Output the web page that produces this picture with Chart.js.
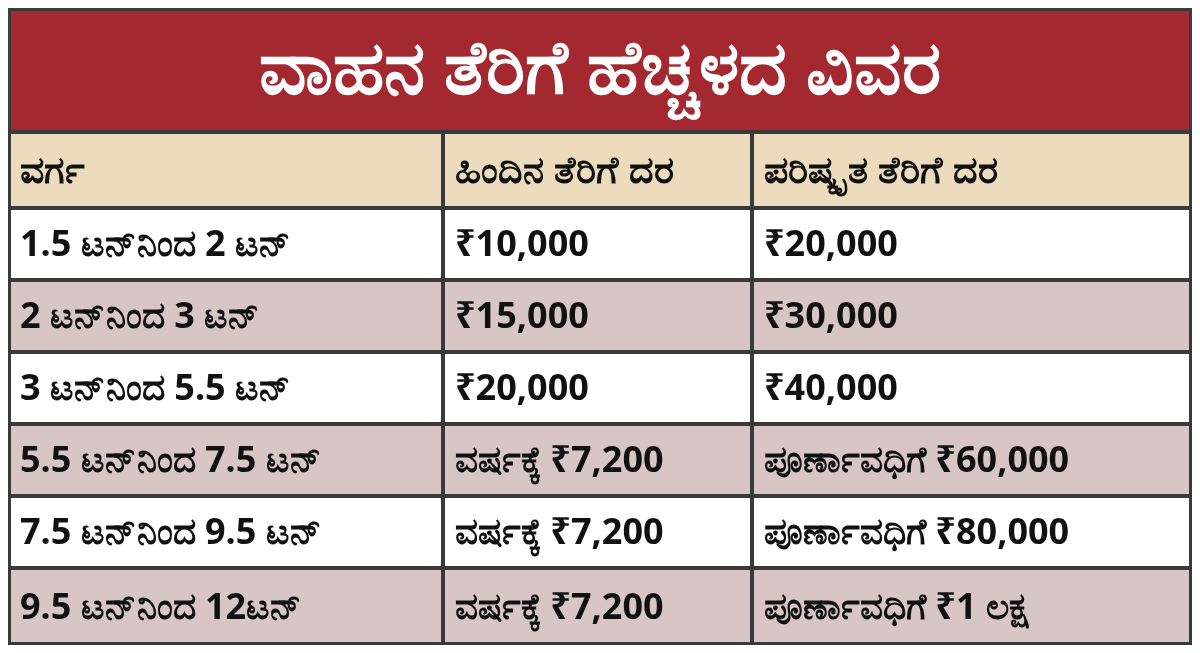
<!DOCTYPE html>
<html><head><meta charset="utf-8">
<script src="https://cdn.jsdelivr.net/npm/chart.js@4/dist/chart.umd.min.js"></script>
<style>html,body{margin:0;padding:0;background:#fff}#w{width:1200px;height:653px}</style>
</head><body><div id="w"><canvas id="c"></canvas></div>
<script>
const title = "ವಾಹನ ತೆರಿಗೆ ಹೆಚ್ಚಳದ ವಿವರ";
const headers = ["ವರ್ಗ", "ಹಿಂದಿನ ತೆರಿಗೆ ದರ", "ಪರಿಷ್ಕೃತ ತೆರಿಗೆ ದರ"];
const categories = ["1.5 ಟನ್‌ನಿಂದ 2 ಟನ್", "2 ಟನ್‌ನಿಂದ 3 ಟನ್", "3 ಟನ್‌ನಿಂದ 5.5 ಟನ್", "5.5 ಟನ್‌ನಿಂದ 7.5 ಟನ್", "7.5 ಟನ್‌ನಿಂದ 9.5 ಟನ್", "9.5 ಟನ್‌ನಿಂದ 12ಟನ್"];
const oldRates = ["₹10,000", "₹15,000", "₹20,000", "ವರ್ಷಕ್ಕೆ ₹7,200", "ವರ್ಷಕ್ಕೆ ₹7,200", "ವರ್ಷಕ್ಕೆ ₹7,200"];
const newRates = ["₹20,000", "₹30,000", "₹40,000", "ಪೂರ್ಣಾವಧಿಗೆ ₹60,000", "ಪೂರ್ಣಾವಧಿಗೆ ₹80,000", "ಪೂರ್ಣಾವಧಿಗೆ ₹1 ಲಕ್ಷ"];

const colEdges = [8, 443, 752, 1192];
const rowEdges = [8, 132, 208, 280, 352, 424, 496, 568, 645];
const FONT = '"Noto Sans", "DejaVu Sans", sans-serif';

const tablePlugin = {
  id: 'table',
  afterDraw(chart) {
    const ctx = chart.ctx, xs = chart.scales.x, ys = chart.scales.y;
    const X = v => xs.getPixelForValue(v), Y = v => ys.getPixelForValue(v);
    ctx.save();
    ctx.fillStyle = '#3a3a3a';
    ctx.fillRect(X(colEdges[0]), Y(rowEdges[0]), X(colEdges[3]) - X(colEdges[0]), Y(rowEdges[8]) - Y(rowEdges[0]));
    const inset = 2;
    ctx.fillStyle = '#a3282f';
    ctx.fillRect(X(colEdges[0]) + 3, Y(rowEdges[0]) + 3, X(colEdges[3]) - X(colEdges[0]) - 6, Y(rowEdges[1]) - Y(rowEdges[0]) - 3 - inset);
    ctx.fillStyle = '#fff';
    ctx.font = 'bold 74px ' + FONT;
    ctx.textAlign = 'center'; ctx.textBaseline = 'middle';
    ctx.fillText(title, (X(colEdges[0]) + X(colEdges[3])) / 2, (Y(rowEdges[0]) + Y(rowEdges[1])) / 2 + 2);
    const rows = [headers].concat(categories.map((c, i) => [c, oldRates[i], newRates[i]]));
    rows.forEach((r, ri) => {
      const y0 = Y(rowEdges[ri + 1]), y1 = Y(rowEdges[ri + 2]);
      const fill = ri === 0 ? '#ecdcbd' : (ri % 2 === 1 ? '#ffffff' : '#d8c6c6');
      r.forEach((t, ci) => {
        const x0 = X(colEdges[ci]), x1 = X(colEdges[ci + 1]);
        ctx.fillStyle = fill;
        const l = ci === 0 ? 3 : inset, rr = ci === 2 ? 3 : inset, b = ri === rows.length - 1 ? 3 : inset;
        ctx.fillRect(x0 + l, y0 + inset, x1 - x0 - l - rr, y1 - y0 - inset - b);
        ctx.fillStyle = '#111';
        ctx.font = (ri === 0 ? 'bold 38px ' : 'bold 36px ') + FONT;
        ctx.textAlign = 'left';
        ctx.fillText(t, x0 + 12, (y0 + y1) / 2 + 2);
      });
    });
    ctx.restore();
  }
};

new Chart(document.getElementById('c'), {
  type: 'scatter',
  data: { datasets: [{ data: [] }] },
  options: {
    responsive: true, maintainAspectRatio: false, animation: false,
    layout: { padding: 0 },
    plugins: { legend: { display: false }, tooltip: { enabled: false } },
    scales: {
      x: { type: 'linear', min: 0, max: 1200, display: false },
      y: { type: 'linear', min: 0, max: 653, reverse: true, display: false }
    }
  },
  plugins: [tablePlugin]
});
</script></body></html>
